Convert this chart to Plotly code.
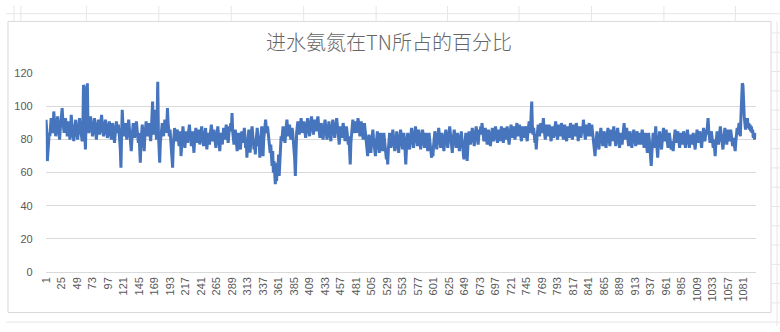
import plotly.graph_objects as go

title_text = "进水氨氮在TN所占的百分比"

ratio = [
    92, 86, 67, 74, 80, 84, 82, 88, 93, 90, 86, 84, 97, 91, 87, 82, 85, 90, 94, 89,
    84, 80, 86, 91, 95, 99, 92, 87, 84, 88, 93, 90, 85, 82, 87, 91, 86, 80, 83, 95,
    90, 85, 81, 79, 84, 88, 92, 86, 82, 80, 85, 90, 93, 88, 84, 81, 79, 86, 113, 112,
    84, 74, 90, 113, 114, 88, 84, 86, 91, 94, 89, 85, 82, 86, 90, 93, 88, 84, 80, 85,
    89, 92, 87, 83, 86, 91, 95, 90, 85, 82, 84, 88, 92, 89, 85, 81, 83, 87, 91, 88,
    84, 80, 86, 90, 87, 82, 78, 83, 88, 91, 87, 84, 89, 86, 80, 74, 63, 82, 98, 90,
    85, 82, 87, 90, 86, 80, 84, 89, 92, 87, 83, 79, 73, 80, 86, 90, 85, 81, 84, 88,
    91, 86, 82, 78, 84, 76, 66, 78, 86, 89, 84, 80, 73, 82, 88, 91, 86, 82, 85, 90,
    87, 82, 79, 85, 92, 103, 89, 83, 90, 98, 88, 80, 93, 115, 84, 74, 66, 78, 84, 88,
    90, 86, 82, 87, 92, 88, 84, 88, 99, 90, 85, 82, 86, 80, 76, 72, 63, 76, 84, 87,
    83, 79, 82, 86, 84, 80, 76, 81, 85, 70, 78, 84, 88, 83, 79, 75, 80, 85, 82, 78,
    82, 86, 89, 84, 79, 76, 81, 85, 78, 72, 79, 84, 87, 82, 78, 81, 86, 83, 77, 80,
    85, 88, 83, 79, 76, 80, 84, 87, 81, 74, 79, 84, 80, 77, 82, 86, 89, 84, 79, 82,
    86, 82, 78, 75, 80, 85, 88, 83, 78, 73, 79, 84, 81, 77, 83, 87, 84, 80, 85, 89,
    84, 80, 78, 83, 88, 85, 90, 86, 96, 85, 80, 77, 82, 86, 81, 76, 73, 79, 84, 81,
    77, 74, 80, 85, 82, 78, 83, 87, 82, 75, 80, 69, 76, 82, 86, 81, 72, 79, 84, 88,
    83, 78, 74, 80, 71, 78, 84, 87, 82, 76, 80, 69, 78, 85, 88, 83, 70, 80, 86, 89,
    92, 87, 84, 88, 85, 80, 76, 72, 77, 70, 64, 73, 60, 67, 57, 53, 62, 55, 66, 60,
    71, 58, 66, 75, 82, 79, 84, 88, 85, 81, 78, 84, 89, 92, 87, 82, 85, 89, 84, 80,
    83, 87, 84, 79, 74, 68, 58, 76, 84, 88, 91, 87, 83, 86, 90, 93, 88, 84, 87, 91,
    88, 84, 81, 86, 90, 93, 89, 85, 82, 87, 91, 94, 90, 86, 83, 88, 92, 89, 85, 90,
    93, 94, 89, 85, 81, 86, 90, 87, 83, 80, 85, 89, 92, 88, 84, 80, 83, 88, 91, 86,
    82, 79, 84, 89, 92, 88, 84, 81, 86, 90, 93, 89, 85, 80, 77, 83, 88, 85, 81, 86,
    90, 87, 83, 79, 84, 88, 85, 80, 77, 82, 74, 65, 78, 85, 89, 92, 88, 84, 87, 91,
    88, 84, 89, 93, 90, 86, 82, 87, 91, 88, 84, 80, 86, 90, 86, 81, 77, 73, 70, 78,
    83, 80, 76, 72, 78, 83, 86, 81, 77, 74, 70, 76, 82, 85, 80, 75, 72, 78, 84, 80,
    76, 73, 79, 84, 80, 75, 71, 68, 74, 65, 74, 80, 84, 79, 75, 78, 83, 86, 81, 77,
    73, 76, 81, 85, 80, 76, 72, 78, 83, 86, 82, 77, 74, 79, 84, 80, 71, 65, 74, 80,
    84, 81, 77, 74, 79, 83, 87, 83, 78, 75, 80, 85, 88, 84, 79, 76, 81, 86, 83, 78,
    74, 78, 83, 86, 82, 78, 75, 80, 84, 81, 76, 73, 79, 84, 80, 76, 72, 69, 75, 70,
    76, 81, 85, 82, 78, 74, 79, 84, 87, 83, 78, 75, 80, 84, 81, 77, 73, 78, 83, 86,
    82, 78, 75, 80, 85, 88, 84, 79, 76, 72, 78, 83, 86, 82, 78, 75, 80, 84, 81, 77,
    73, 78, 82, 85, 80, 76, 72, 68, 75, 81, 84, 79, 67, 75, 82, 85, 81, 77, 80, 84,
    87, 83, 79, 76, 81, 85, 88, 84, 80, 77, 82, 86, 83, 88, 84, 90, 86, 82, 79, 83,
    87, 84, 80, 77, 82, 86, 83, 79, 76, 80, 84, 87, 83, 79, 82, 86, 88, 84, 80, 78,
    82, 86, 83, 79, 84, 88, 85, 81, 78, 83, 87, 84, 80, 85, 88, 84, 80, 77, 82, 86,
    89, 85, 81, 84, 88, 85, 80, 83, 87, 90, 86, 82, 85, 89, 86, 82, 79, 84, 88, 85,
    81, 84, 88, 86, 82, 79, 84, 88, 91, 87, 84, 95, 103, 88, 83, 87, 82, 78, 80, 74,
    81, 86, 89, 85, 82, 86, 90, 87, 84, 88, 93, 87, 83, 80, 85, 89, 86, 82, 85, 89,
    86, 82, 79, 84, 88, 85, 81, 84, 88, 91, 87, 83, 80, 85, 89, 86, 82, 86, 90, 87,
    83, 80, 85, 89, 86, 82, 79, 84, 88, 85, 81, 86, 90, 87, 83, 80, 85, 89, 86, 82,
    86, 90, 87, 83, 79, 84, 88, 85, 81, 84, 88, 86, 92, 87, 83, 80, 85, 89, 86, 82,
    87, 90, 86, 82, 85, 89, 85, 81, 77, 74, 70, 76, 82, 85, 81, 77, 74, 79, 84, 87,
    83, 79, 76, 81, 85, 82, 78, 75, 80, 84, 87, 83, 79, 76, 81, 86, 83, 79, 84, 88,
    84, 80, 76, 79, 84, 87, 83, 79, 75, 80, 84, 81, 77, 82, 86, 90, 85, 80, 83, 87,
    83, 79, 76, 81, 85, 82, 78, 75, 80, 84, 86, 82, 78, 76, 81, 85, 82, 77, 80, 84,
    81, 77, 82, 86, 83, 79, 75, 80, 84, 80, 76, 72, 78, 84, 80, 74, 69, 64, 72, 80,
    84, 79, 75, 82, 88, 80, 74, 69, 76, 82, 85, 81, 77, 74, 79, 84, 87, 83, 79, 82,
    86, 82, 78, 75, 80, 84, 81, 77, 74, 79, 76, 73, 78, 83, 86, 82, 78, 81, 85, 82,
    78, 75, 80, 84, 81, 77, 80, 85, 82, 78, 75, 80, 84, 86, 82, 78, 75, 79, 83, 80,
    77, 80, 84, 81, 77, 74, 79, 83, 86, 82, 78, 81, 85, 82, 78, 75, 80, 84, 87, 83,
    79, 82, 86, 83, 88, 93, 86, 82, 78, 81, 85, 82, 78, 75, 80, 76, 70, 77, 82, 85,
    81, 77, 80, 84, 88, 84, 80, 77, 74, 78, 83, 87, 84, 80, 77, 82, 86, 83, 79, 82,
    86, 83, 79, 76, 81, 78, 75, 73, 79, 84, 87, 83, 86, 90, 86, 82, 95, 108, 114, 113,
    100, 94, 90, 86, 92, 88, 93, 87, 90, 86, 89, 85, 88, 84, 86, 81, 84, 80, 82, 84,
]

sample_no = list(range(1, len(ratio) + 1))
x_tick_vals = list(range(1, len(ratio) + 1, 24))
x_tick_text = [str(v) for v in x_tick_vals]
y_tick_vals = [0, 20, 40, 60, 80, 100, 120]

W, H = 780, 332
grid_col = "#d9d9d9"
text_col = "#595959"
sheet_col = "#e6e6e6"

fig = go.Figure()
fig.add_trace(go.Scatter(
    x=sample_no, y=ratio, mode="lines",
    line=dict(color="#4674bd", width=3),
    hoverinfo="x+y", showlegend=False,
))

def px_x(v):
    return v / W

def px_y(v):
    return 1 - v / H

shapes = []
# spreadsheet cell grid outside chart area
for cx in [8, 15, 81, 154, 227, 300, 373, 445, 517, 590, 663, 735]:
    shapes.append(dict(type="line", xref="paper", yref="paper",
                       x0=px_x(cx), x1=px_x(cx), y0=px_y(0), y1=px_y(16),
                       line=dict(color=sheet_col, width=1)))
shapes.append(dict(type="line", xref="paper", yref="paper",
                   x0=0, x1=1, y0=px_y(8), y1=px_y(8),
                   line=dict(color=sheet_col, width=1)))
shapes.append(dict(type="line", xref="paper", yref="paper",
                   x0=px_x(777), x1=px_x(777), y0=px_y(16), y1=px_y(332),
                   line=dict(color=sheet_col, width=1)))
for ry in [28, 48, 68, 88, 108, 128, 148, 168, 188, 208, 228, 248, 268, 288, 308]:
    shapes.append(dict(type="line", xref="paper", yref="paper",
                       x0=px_x(771), x1=1, y0=px_y(ry), y1=px_y(ry),
                       line=dict(color=sheet_col, width=1)))
for ry in [328]:
    shapes.append(dict(type="line", xref="paper", yref="paper",
                       x0=0, x1=1, y0=px_y(ry), y1=px_y(ry),
                       line=dict(color=sheet_col, width=1)))
# chart area border
shapes.append(dict(type="rect", xref="paper", yref="paper",
                   x0=px_x(2), x1=px_x(771), y0=px_y(318), y1=px_y(16),
                   line=dict(color=grid_col, width=1), fillcolor="rgba(0,0,0,0)",
                   layer="below"))

fig.update_layout(
    width=W, height=H,
    margin=dict(l=0, r=0, t=0, b=0),
    paper_bgcolor="white", plot_bgcolor="white",
    title=dict(text=title_text, x=386 / W, xref="paper", xanchor="center",
               y=px_y(38), yref="paper", yanchor="middle",
               font=dict(family="Noto Sans CJK SC", size=20, color="#666666",
                         weight=300)),
    shapes=shapes,
    xaxis=dict(
        domain=[40 / W, 756 / W],
        range=[0.5, len(ratio) + 0.5],
        tickmode="array", tickvals=x_tick_vals, ticktext=x_tick_text,
        tickangle=-90, ticks="", showgrid=False, zeroline=False,
        showline=True, linecolor=grid_col, linewidth=1,
        tickfont=dict(family="Liberation Sans", size=11, color=text_col),
        fixedrange=True,
    ),
    yaxis=dict(
        domain=[(H - 275.7) / H, (H - 70) / H],
        range=[0, 120],
        tickmode="array", tickvals=y_tick_vals,
        ticks="", showgrid=True, gridcolor=grid_col, gridwidth=1,
        zeroline=False, showline=False,
        ticklabelstandoff=12,
        tickfont=dict(family="Liberation Sans", size=11, color=text_col),
        fixedrange=True,
    ),
)

fig.write_html("out.html")
